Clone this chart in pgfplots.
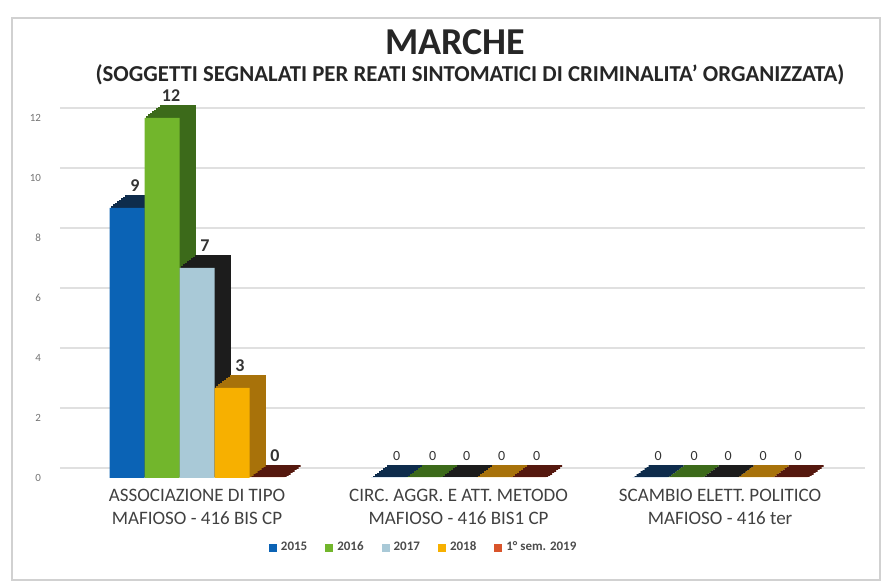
\documentclass[border=0pt]{standalone}
\usepackage{fontspec}
\setmainfont{Carlito}
\usepackage{pgfplots}
\pgfplotsset{compat=1.18}
\definecolor{c1}{HTML}{0B63B5}\definecolor{s1}{HTML}{0E2C4C}
\definecolor{c2}{HTML}{72B62C}\definecolor{s2}{HTML}{3C6A1A}
\definecolor{c3}{HTML}{A9C9D7}\definecolor{s3}{HTML}{1C1C1C}
\definecolor{c4}{HTML}{F7B000}\definecolor{s4}{HTML}{A8720A}
\definecolor{c5}{HTML}{D9542B}\definecolor{s5}{HTML}{55180E}
\pgfplotstableread{
x y1 y2 y3 y4 y5
0 9 12 7 3 0
1 0 0 0 0 0
2 0 0 0 0 0
}\datatab
\newcommand{\vlab}{\ifdim\xv pt<0.5pt\fontsize{9}{9}\selectfont\bfseries\else\fontsize{7}{7}\selectfont\fi\pgfmathprintnumber{\pgfplotspointmeta}}
\begin{document}
\begin{tikzpicture}
\useasboundingbox (-30pt,-54.5pt) rectangle (414pt,239pt);
\draw[black!18, line width=0.8pt] (-24pt,-51pt) rectangle (410pt,230pt);
\node[font=\fontsize{19}{19}\selectfont\bfseries, text=black!85] at (197.5pt,218pt) {MARCHE};
\node[font=\fontsize{11.4}{12}\selectfont\bfseries, text=black!85] at (205pt,201.5pt) {(SOGGETTI SEGNALATI PER REATI SINTOMATICI DI CRIMINALITA' ORGANIZZATA)};
\begin{axis}[
  at={(0,0)}, anchor=south west,
  width=402.5pt, height=180pt, scale only axis,
  xmin=-0.524, xmax=2.554, ymin=0, ymax=12,
  xtick={0,1,2},
  xticklabels={{ASSOCIAZIONE DI TIPO\\MAFIOSO - 416 BIS CP},{CIRC. AGGR. E ATT. METODO\\MAFIOSO - 416 BIS1 CP},{SCAMBIO ELETT. POLITICO\\MAFIOSO - 416 ter}},
  ytick={0,2,...,12},
  axis line style={draw=none}, tick style={draw=none},
  ymajorgrids, major grid style={draw=black!12, line width=1pt, yshift=5pt},
  clip=false,
  x tick label style={font=\fontsize{9.5}{11.5}\selectfont, align=center, text=black!75, yshift=-2pt},
  y tick label style={font=\fontsize{5.5}{6}\selectfont, text=black!55, xshift=-6pt},
  /pgf/number format/assume math mode=true,
  legend style={at={(0.453,-0.194)}, anchor=center, draw=none, fill=none, legend columns=5,
    font=\fontsize{6.5}{7}\selectfont\bfseries, text=black!70,
    /tikz/every even column/.append style={column sep=7pt}},
  legend image code/.code={\draw[#1, draw=none] (0pt,-2pt) rectangle (4pt,2pt);},
  every node near coord/.append style={anchor=center, yshift=11pt, text=black!80},
  visualization depends on={\thisrow{x}\as\xv},
]
\pgfplotsinvokeforeach{8,7,...,1}{\addplot[ybar, forget plot, bar width=17.5pt, bar shift=-35pt, fill=s1, draw=s1, line width=0.9pt, xshift=#1pt, yshift=0.725*#1pt] table[x=x,y=y1] {\datatab};}
\addplot[ybar, bar width=17.5pt, bar shift=-35pt, fill=c1, draw=none, nodes near coords=\vlab, every node near coord/.append style={xshift=-31pt}] table[x=x,y=y1] {\datatab};
\addlegendentry{2015}
\pgfplotsinvokeforeach{8,7,...,1}{\addplot[ybar, forget plot, bar width=17.5pt, bar shift=-17.5pt, fill=s2, draw=s2, line width=0.9pt, xshift=#1pt, yshift=0.725*#1pt] table[x=x,y=y2] {\datatab};}
\addplot[ybar, bar width=17.5pt, bar shift=-17.5pt, fill=c2, draw=none, nodes near coords=\vlab, every node near coord/.append style={xshift=-13pt}] table[x=x,y=y2] {\datatab};
\addlegendentry{2016}
\pgfplotsinvokeforeach{8,7,...,1}{\addplot[ybar, forget plot, bar width=17.5pt, bar shift=0pt, fill=s3, draw=s3, line width=0.9pt, xshift=#1pt, yshift=0.725*#1pt] table[x=x,y=y3] {\datatab};}
\addplot[ybar, bar width=17.5pt, bar shift=0pt, fill=c3, draw=none, nodes near coords=\vlab, every node near coord/.append style={xshift=4pt}] table[x=x,y=y3] {\datatab};
\addlegendentry{2017}
\pgfplotsinvokeforeach{8,7,...,1}{\addplot[ybar, forget plot, bar width=17.5pt, bar shift=17.5pt, fill=s4, draw=s4, line width=0.9pt, xshift=#1pt, yshift=0.725*#1pt] table[x=x,y=y4] {\datatab};}
\addplot[ybar, bar width=17.5pt, bar shift=17.5pt, fill=c4, draw=none, nodes near coords=\vlab, every node near coord/.append style={xshift=21.5pt}] table[x=x,y=y4] {\datatab};
\addlegendentry{2018}
\pgfplotsinvokeforeach{8,7,...,1}{\addplot[ybar, forget plot, bar width=17.5pt, bar shift=35pt, fill=s5, draw=s5, line width=0.9pt, xshift=#1pt, yshift=0.725*#1pt] table[x=x,y=y5] {\datatab};}
\addplot[ybar, bar width=17.5pt, bar shift=35pt, fill=c5, draw=none, nodes near coords=\vlab, every node near coord/.append style={xshift=39pt}] table[x=x,y=y5] {\datatab};
\addlegendentry{1° sem. 2019}
\end{axis}
\end{tikzpicture}
\end{document}
